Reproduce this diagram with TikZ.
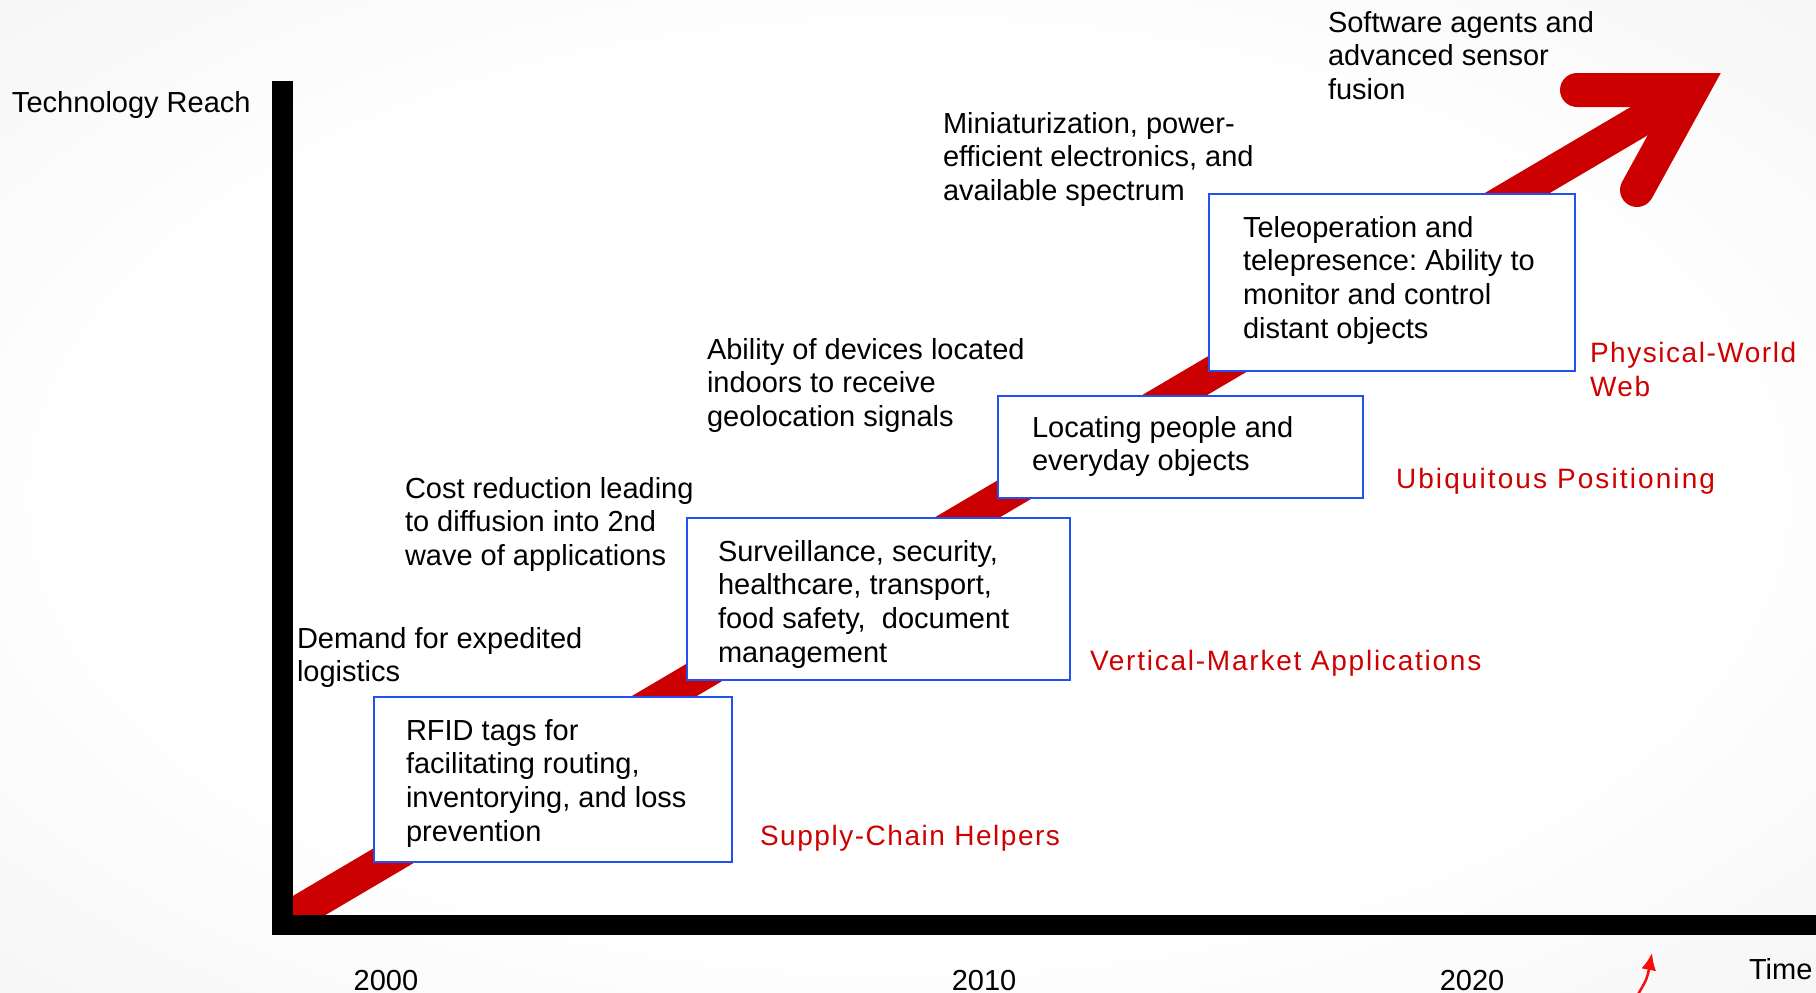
\documentclass[tikz,border=0pt]{standalone}
\usepackage{fontspec}
\setmainfont{Liberation Sans}
\newfontfamily\redfont[LetterSpace=5.5]{Liberation Sans}
\newfontfamily\redfontm[LetterSpace=6.3]{Liberation Sans}
\newfontfamily\redfontw[LetterSpace=7.5]{Liberation Sans}
\usetikzlibrary{arrows.meta}
\definecolor{bandred}{RGB}{204,0,0}
\definecolor{labred}{RGB}{206,0,0}
\definecolor{boxblue}{RGB}{35,80,240}
\definecolor{smallred}{RGB}{250,10,10}
\newcommand{\mlines}[1]{\begin{tabular}[t]{@{}l@{}}#1\end{tabular}}
\pgfdeclareradialshading{bgshade}{\pgfpoint{0bp}{0bp}}{color(0bp)=(white); color(22bp)=(white); color(50bp)=(black!7)}
\frenchspacing
\begin{document}
\begin{tikzpicture}[x=1pt,y=-1pt,
  every node/.style={inner sep=0pt, outer sep=0pt, font=\fontsize{29}{33.7}\selectfont},
  lbl/.style={anchor=base west, text=black},
  redlbl/.style={anchor=base west, text=labred, font=\fontsize{28}{34}\selectfont\redfont},
  yearlbl/.style={anchor=base, text=black},
  boxnode/.style={draw=boxblue, line width=2.5pt, fill=white, anchor=north west},
  band/.style={draw=bandred, line width=33pt, line cap=butt},
  bandhead/.style={draw=bandred, line width=34pt, line cap=round, line join=miter},
  axis/.style={fill=black},
  pointer/.style={draw=smallred, line width=2.5pt, -{Latex[length=17pt,width=15pt]}}
]
\useasboundingbox (0,0) rectangle (1816,993);
\shade[shading=bgshade] (0,0) rectangle (1816,993);

% big red arrow
\coordinate (s0) at (293,915);
\coordinate (tipc) at (1692,90);
\coordinate (hl) at (1577,90);
\coordinate (hr) at (1637,190);
\draw[band] (s0) -- (tipc);
\draw[bandhead] (hl) -- (tipc) -- (hr);

% axes
\fill[axis] (272,81) rectangle (293,935);
\fill[axis] (272,915) rectangle (1816,935);

% axis labels
\node[lbl] (yl) at (12,112) {Technology Reach};
\node[lbl] (xl) at (1749,979) {Time};
\node[yearlbl] (y2000) at (386,990) {2000};
\node[yearlbl] (y2010) at (984,990) {2010};
\node[yearlbl] (y2020) at (1472,990) {2020};

% small pointer
\coordinate (pa) at (1637,996);
\coordinate (pb) at (1652,953);
\draw[pointer] (pa) .. controls (1647,979) .. (pb);

% boxes
\node[boxnode, minimum width=358pt, minimum height=165pt] (box1) at (374,697) {};
\node[lbl] (t1) at (406,740) {\mlines{RFID tags for\\facilitating routing,\\inventorying, and loss\\prevention}};
\node[boxnode, minimum width=383pt, minimum height=162pt] (box2) at (687,518) {};
\node[lbl] (t2) at (718,561) {\mlines{Surveillance, security,\\healthcare, transport,\\food safety,~ document\\management}};
\node[boxnode, minimum width=365pt, minimum height=102pt] (box3) at (998,396) {};
\node[lbl] (t3) at (1032,437) {\mlines{Locating people and\\everyday objects}};
\node[boxnode, minimum width=366pt, minimum height=177pt] (box4) at (1209,194) {};
\node[lbl] (t4) at (1243,237) {\mlines{Teleoperation and\\telepresence: Ability to\\monitor and control\\distant objects}};

% driver labels
\node[lbl] (d1) at (297,648) {\mlines{Demand for expedited\\logistics}};
\node[lbl] (d2) at (405,498) {\mlines{Cost reduction leading\\to diffusion into 2nd\\wave of applications}};
\node[lbl] (d3) at (707,359) {\mlines{Ability of devices located\\indoors to receive\\geolocation signals}};
\node[lbl] (d4) at (943,133) {\mlines{Miniaturization, power-\\efficient electronics, and\\available spectrum}};
\node[lbl] (d5) at (1328,32) {\mlines{Software agents and\\advanced sensor\\fusion}};

% phase labels
\node[redlbl] (p1) at (760,845) {Supply-Chain Helpers};
\node[redlbl, font=\fontsize{28}{34}\selectfont\redfontm] (p2) at (1090,670) {Vertical-Market Applications};
\node[redlbl, font=\fontsize{28}{34}\selectfont\redfontw] (p3) at (1396,488) {Ubiquitous Positioning};
\node[redlbl] (p4) at (1590,362) {\mlines{Physical-World\\Web}};
\end{tikzpicture}
\end{document}
